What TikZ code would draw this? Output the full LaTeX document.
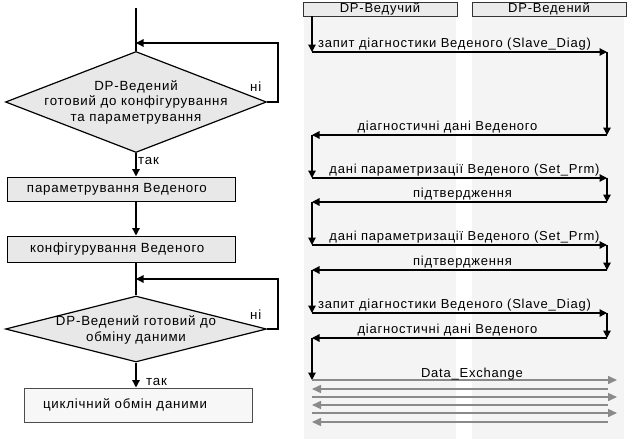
\documentclass[tikz,border=0pt]{standalone}
\usepackage{fontspec}
\setmainfont{Liberation Sans}
\newfontfamily\spacedfont[LetterSpace=6]{Liberation Sans}
\usetikzlibrary{shapes.geometric,arrows.meta}
\definecolor{boxgray}{HTML}{E8E8E8}
\definecolor{bandgray}{HTML}{F4F4F4}
\definecolor{hdrgray}{HTML}{EBEBEB}
\definecolor{lightbox}{HTML}{F7F7F7}
\definecolor{dxgray}{HTML}{8A8A8A}
\tikzset{
  x=1pt,y=-1pt,
  ftext/.style={font=\spacedfont\fontsize{13.3}{15.5}\selectfont},
  mtext/.style={font=\spacedfont\fontsize{13}{14}\selectfont},
  decision/.style={diamond,draw=black,line width=1.2pt,fill=boxgray,inner sep=0pt},
  dtext/.style={align=center,ftext,inner sep=0pt},
  procbox/.style={rectangle,draw=black,line width=1pt,fill=boxgray,minimum height=24pt,align=left,ftext,inner ysep=0pt},
  flow/.style={line width=1.3pt,-{Triangle[length=7.5pt,width=7.5pt]}},
  fline/.style={line width=1.3pt},
  band/.style={fill=bandgray,draw=none},
  header/.style={rectangle,draw=black!80,line width=1pt,fill=hdrgray,minimum width=154pt,minimum height=14pt,inner sep=0pt,mtext},
  msg/.style={line width=1.3pt,-{Triangle[length=7.5pt,width=7.5pt]}},
  dx/.style={line width=1.5pt,draw=dxgray,-{Triangle[length=9pt,width=8pt]}},
  lab/.style={mtext,inner sep=1pt,anchor=south}
}
\begin{document}
\begin{tikzpicture}
\useasboundingbox (0,0) rectangle (640,447);
% ---------- flowchart ----------
\coordinate (top) at (136,8);
\node[decision,minimum width=261pt,minimum height=101pt] (d1) at (136,102) {};
\node[dtext] (d1t) at (136,102) {DP-Ведений\\готовий до конфігурування\\та параметрування};
\node[procbox,text width=188pt,inner xsep=20pt] (b1) at (121,189) {параметрування Веденого};
\node[procbox,text width=182pt,inner xsep=23pt,minimum height=26pt] (b2) at (121,249) {конфігурування Веденого};
\node[decision,minimum width=261pt,minimum height=66pt] (d2) at (136,329) {};
\node[dtext] (d2t) at (136,330) {DP-Ведений готовий до\\обміну даними};
\node[procbox,fill=lightbox,draw=black!70,text width=190pt,inner xsep=19pt,minimum height=34pt] (b3) at (138,405) {циклічний обмін даними};

\coordinate (l1a) at (278,102);
\coordinate (l1b) at (278,43);
\coordinate (l1c) at (136,43);
\coordinate (l2a) at (278,329);
\coordinate (l2b) at (278,279);
\coordinate (l2c) at (136,279);

\draw[fline] (top) -- (d1.north);
\draw[flow] (d1.east) -- (l1a) -- (l1b) -- (l1c);
\draw[flow] (d1.south) -- (d1.south |- b1.north);
\draw[flow] (b1.south -| d1.south) -- (d1.south |- b2.north);
\draw[fline] (b2.south -| d2.north) -- (d2.north);
\draw[flow] (d2.east) -- (l2a) -- (l2b) -- (l2c);
\draw[flow] (d2.south) -- (d2.south |- b3.north);
\node[ftext,anchor=west,inner sep=0pt] (no1) at (250,87) {ні};
\node[ftext,anchor=west,inner sep=0pt] (no2) at (250,315) {ні};
\node[ftext,anchor=west,inner sep=0pt] (yes1) at (138,161) {так};
\node[ftext,anchor=west,inner sep=0pt] (yes2) at (146,382) {так};

% ---------- sequence ----------
\fill[band] (304,2) rectangle (456,439);
\fill[band] (472,2) rectangle (624,439);
\node[header] (hm) at (380,9) {DP-Ведучий};
\node[header] (hs) at (549,9) {DP-Ведений};

\coordinate (m0) at (312,16);
\foreach \n/\y in {1/52,2/135,3/178,4/202,5/245,6/270,7/313,8/338,9/380}{
  \coordinate (m\n) at (312,\y);
  \coordinate (s\n) at (607,\y);
}
\draw[msg] (m0) -- (m1);
\draw[msg] (m1) -- node[lab,xshift=-5pt] {запит діагностики Веденого (Slave\_Diag)} (s1);
\draw[msg] (s1) -- (s2);
\draw[msg] (s2) -- node[lab,xshift=-12pt] {діагностичні дані Веденого} (m2);
\draw[msg] (m2) -- (m3);
\draw[msg] (m3) -- node[lab,xshift=5pt] {дані параметризації Веденого (Set\_Prm)} (s3);
\draw[msg] (s3) -- (s4);
\draw[msg] (s4) -- node[lab,xshift=3pt] {підтвердження} (m4);
\draw[msg] (m4) -- (m5);
\draw[msg] (m5) -- node[lab,xshift=5pt] {дані параметризації Веденого (Set\_Prm)} (s5);
\draw[msg] (s5) -- (s6);
\draw[msg] (s6) -- node[lab,xshift=3pt] {підтвердження} (m6);
\draw[msg] (m6) -- (m7);
\draw[msg] (m7) -- node[lab,xshift=-5pt] {запит діагностики Веденого (Slave\_Diag)} (s7);
\draw[msg] (s7) -- (s8);
\draw[msg] (s8) -- node[lab,xshift=-12pt] {діагностичні дані Веденого} (m8);
\draw[msg] (m8) -- (m9);

\foreach \n/\y in {1/380,3/397,5/413}{
  \coordinate (ra\n) at (312,\y);
  \coordinate (rb\n) at (617,\y);
  \draw[dx] (ra\n) -- (rb\n);
}
\foreach \n/\y in {2/389,4/405,6/422}{
  \coordinate (la\n) at (608,\y);
  \coordinate (lb\n) at (312,\y);
  \draw[dx] (la\n) -- (lb\n);
}
\node[lab] (dxl) at (472,381) {Data\_Exchange};
\end{tikzpicture}
\end{document}
